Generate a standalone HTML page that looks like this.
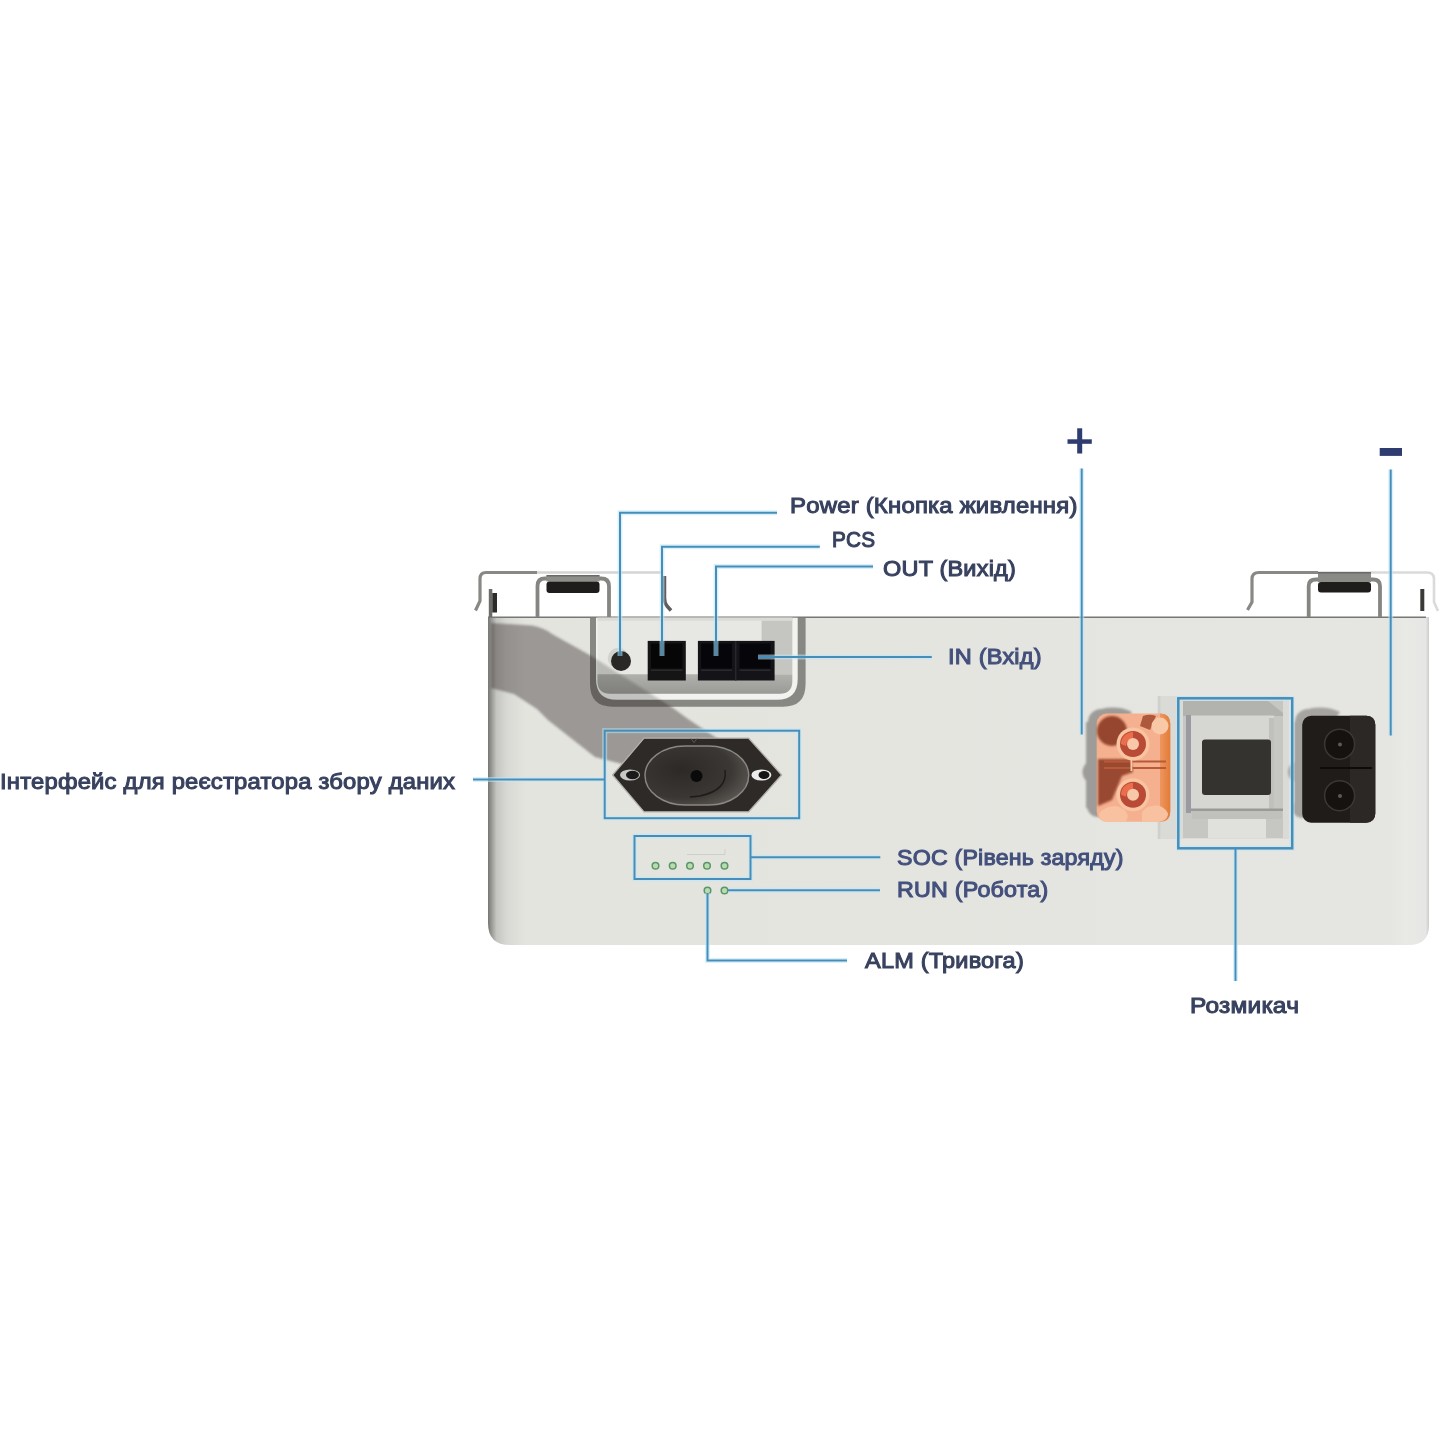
<!DOCTYPE html>
<html><head><meta charset="utf-8">
<style>
html,body{margin:0;padding:0;background:#fff;}
body{width:1440px;height:1440px;position:relative;overflow:hidden;font-family:"Liberation Sans",sans-serif;}
svg{position:absolute;left:0;top:0;}
.g{color:#43507c !important;-webkit-text-stroke-color:#43507c !important;}
.lb{position:absolute;white-space:nowrap;font-weight:normal;font-size:22.5px;line-height:23px;color:#38425f;-webkit-text-stroke:1.05px #38425f;letter-spacing:0.2px;transform-origin:0 0;}
</style></head><body>
<svg width="1440" height="1440" viewBox="0 0 1440 1440">
<defs>
  <linearGradient id="bodyL" x1="488" x2="1428.5" y1="0" y2="0" gradientUnits="userSpaceOnUse">
    <stop offset="0" stop-color="#767672"/>
    <stop offset="0.004" stop-color="#9a9a96"/>
    <stop offset="0.009" stop-color="#c4c4c0"/>
    <stop offset="0.02" stop-color="#d8d8d4"/>
    <stop offset="0.04" stop-color="#e4e4df"/>
    <stop offset="0.96" stop-color="#e5e5e1"/>
    <stop offset="0.975" stop-color="#e9e9e6"/>
    <stop offset="0.997" stop-color="#e6e6e4"/>
    <stop offset="1" stop-color="#d0d0ce"/>
  </linearGradient>
  <linearGradient id="ledge" x1="0" x2="0" y1="0" y2="1">
    <stop offset="0" stop-color="#b0b0ac"/><stop offset="1" stop-color="#9a9a96"/>
  </linearGradient>
  <linearGradient id="rimR" x1="0" x2="1" y1="0" y2="0">
    <stop offset="0" stop-color="#9a9a96"/><stop offset="0.5" stop-color="#7e7e7a"/><stop offset="1" stop-color="#a8a8a4"/>
  </linearGradient>
  <radialGradient id="ov" cx="0.35" cy="0.4" r="0.8"><stop offset="0" stop-color="#2c2926"/><stop offset="0.6" stop-color="#3a3734"/><stop offset="1" stop-color="#67645f"/></radialGradient>
  <linearGradient id="orR" x1="0" x2="1" y1="0" y2="0"><stop offset="0" stop-color="#ee9660"/><stop offset="1" stop-color="#e27c38"/></linearGradient>
  <linearGradient id="shg" gradientUnits="userSpaceOnUse" x1="520" y1="705" x2="560" y2="640"><stop offset="0" stop-color="#35322d" stop-opacity="0.42"/><stop offset="1" stop-color="#35322d" stop-opacity="0.42"/></linearGradient>
  <filter id="soft" x="-20%" y="-20%" width="140%" height="140%"><feGaussianBlur stdDeviation="1.2"/></filter>
  <filter id="soft2" x="-20%" y="-20%" width="140%" height="140%"><feGaussianBlur stdDeviation="2"/></filter>
</defs>
<!-- body -->
<path d="M488,617 H1429 V925 Q1429,945 1409,945 H510 Q488,945 488,923 Z" fill="url(#bodyL)"/>
<line x1="488" y1="617.2" x2="1426" y2="617.2" stroke="#777775" stroke-width="1.4"/>
<!-- recess -->
<path d="M590,617.8 V684 Q590,706.7 612.7,706.7 H783 Q805.6,706.7 805.6,684 V617.8 Z" fill="#878783"/>
<path d="M596,617.8 V679 Q596,699.7 616.7,699.7 H777 Q797.7,699.7 797.7,679 V617.8 Z" fill="#f2f2f0"/>
<path d="M597.5,617.8 V681 Q597.5,693.8 610.3,693.8 H779.5 Q792.3,693.8 792.3,681 V617.8 Z" fill="#e7e7e3"/>
<path d="M597.5,674.3 H792.3 V681 Q792.3,693.8 779.5,693.8 H610.3 Q597.5,693.8 597.5,681 Z" fill="url(#ledge)"/>
<rect x="761.6" y="617.8" width="30.7" height="56.5" fill="#c5c5c1"/>
<rect x="597.5" y="617.8" width="195" height="3" fill="#dadad6"/>
<!-- shadow band -->
<clipPath id="outR"><path clip-rule="evenodd" d="M480,610 H820 V820 H480 Z M596,617.8 V679 Q596,699.7 616.7,699.7 H777 Q797.7,699.7 797.7,679 V617.8 Z"/></clipPath>
<clipPath id="inR"><path d="M596,617.8 V679 Q596,699.7 616.7,699.7 H777 Q797.7,699.7 797.7,679 V617.8 Z"/></clipPath>
<g clip-path="url(#outR)"><path d="M491,623 L532,625.5 Q545,628 552,634 L590.5,655.6 L671.5,707 L688,719 L706,731 L718,739 L745,752 L700,800 L622,764 L595,757 L548,720 L537,709 L514,694 L491,688 Z" fill="url(#shg)" filter="url(#soft)"/></g>
<g clip-path="url(#inR)"><path d="M491,623 L532,625.5 Q545,628 552,634 L590.5,655.6 L671.5,707 L688,719 L706,731 L718,739 L745,752 L700,800 L622,764 L595,757 L548,720 L537,709 L514,694 L491,688 Z" fill="#35322d" fill-opacity="0.25" filter="url(#soft)"/></g>
<!-- power button -->
<circle cx="618.3" cy="658.3" r="10.5" fill="#c9c9c5" opacity="0.7"/>
<circle cx="621" cy="661" r="10" fill="#2a2826"/>
<!-- ports -->
<rect x="647.7" y="640.9" width="38.1" height="39.6" fill="#151515"/>
<rect x="651" y="643.5" width="31.5" height="25" fill="#060606"/>
<rect x="651" y="669.5" width="31.5" height="1.5" fill="#2a2a2a"/>
<rect x="697.9" y="640.9" width="76.7" height="39.6" fill="#141418"/>
<rect x="701" y="643.5" width="31" height="25" fill="#05050a"/>
<rect x="739.5" y="643.5" width="31" height="25" fill="#05050a"/>
<rect x="701" y="669.5" width="31" height="1.5" fill="#2a2a2e"/>
<rect x="739.5" y="669.5" width="31" height="1.5" fill="#2a2a2e"/>
<line x1="735.7" y1="641" x2="735.7" y2="680.5" stroke="#28282c" stroke-width="1.5"/>
<!-- handles left -->
<path d="M537,572.5 H486 Q480,572.5 480,579 V601 L475.5,610.5" fill="none" stroke="#888884" stroke-width="3.2"/>
<path d="M537,572.5 H661" fill="none" stroke="#d4d4d2" stroke-width="2.6"/>
<path d="M664.5,576 V598 Q664.5,603 667,606 L671,610.5" fill="none" stroke="#5e5e5c" stroke-width="3.5"/>
<path d="M537.5,617 V586 Q537.5,578.5 545,578.5 H601 Q609,578.5 609,586 V617" fill="none" stroke="#858581" stroke-width="3.8"/>
<rect x="546.5" y="575.5" width="53" height="6" fill="#8e8e8a"/>
<rect x="546.5" y="575" width="53" height="1.5" fill="#6a6a68"/>
<rect x="546.5" y="581.5" width="53" height="11.5" rx="3" fill="#1f1d1b"/>
<rect x="488.8" y="589" width="3.5" height="28" fill="#6c6c6a"/>
<rect x="492.3" y="593" width="4.7" height="19.5" fill="#2c2c2a"/>
<!-- handles right -->
<path d="M1318,572.5 H1259 Q1252,572.5 1252,579 V602 L1247.5,610" fill="none" stroke="#888884" stroke-width="3.2"/>
<path d="M1318,572.5 H1427 Q1434,572.5 1434,579 V602 L1438,611" fill="none" stroke="#dadad8" stroke-width="2.6"/>
<path d="M1308.7,617 V586 Q1308.7,579.5 1316,579.5 H1373 Q1380,579.5 1380,586 V617" fill="none" stroke="#858581" stroke-width="3.8"/>
<rect x="1318" y="572" width="53" height="10" fill="#8a8a86"/>
<rect x="1318" y="572" width="53" height="1.5" fill="#6a6a68"/>
<rect x="1318" y="582" width="53" height="10.5" rx="3" fill="#1f1d1b"/>
<rect x="1420.3" y="589" width="4" height="22" fill="#3a3a38"/>
<!-- socket -->
<path d="M612.6,775 L644,738.2 H748.7 L781.6,775 L748.7,811.8 H644 Z" fill="#2d2a27" stroke="#b4b2ae" stroke-width="1.3" stroke-linejoin="round"/>
<path d="M691,738.5 L694,742.5 L697,738.5" fill="none" stroke="#5a5856" stroke-width="0.9"/>
<rect x="645" y="746" width="103.7" height="59" rx="40" ry="29.5" fill="url(#ov)" stroke="#8a8884" stroke-width="1.4"/>
<path d="M725,770 Q728,790 700,796 L690,797" fill="none" stroke="#1e1c1a" stroke-width="1.5"/>
<circle cx="696.5" cy="776" r="6" fill="#0a0a0a"/>
<ellipse cx="630" cy="775" rx="10" ry="5.5" fill="#c8c8c4"/>
<ellipse cx="632.5" cy="775" rx="6.5" ry="4.2" fill="#1a1a1a"/>
<ellipse cx="761.4" cy="775" rx="10" ry="5.5" fill="#ececea"/>
<ellipse cx="764" cy="775" rx="5.5" ry="4" fill="#151515"/>
<!-- LEDs -->
<g fill="#b8dcae" stroke="#5a966a" stroke-width="1.5">
<circle cx="655.5" cy="865.7" r="3.3"/><circle cx="672.7" cy="865.7" r="3.3"/><circle cx="690" cy="865.7" r="3.3"/><circle cx="707" cy="865.7" r="3.3"/><circle cx="724.5" cy="865.7" r="3.3"/>
<circle cx="707.5" cy="890.5" r="3.3"/><circle cx="724.5" cy="890.5" r="3.3"/>
</g>
<path d="M687,854.5 H725 V849" fill="none" stroke="#cfcfcb" stroke-width="1"/>
<!-- breaker -->
<rect x="1157.8" y="696" width="131.2" height="143" fill="#dadad6"/>
<rect x="1157.8" y="696" width="2.5" height="143" fill="#cfcfcb"/>
<rect x="1183" y="701" width="100" height="137" fill="#c6c6c2"/>
<path d="M1183,701 H1268 L1283,713 V716 H1183 Z" fill="#b2b2ae"/>
<rect x="1191" y="715.5" width="83" height="94.5" fill="#d6d6d2"/>
<rect x="1186" y="715" width="5" height="98" fill="#9a9aa0"/>
<rect x="1269" y="718" width="5" height="92" fill="#c0c0bc"/>
<rect x="1191" y="808.5" width="92" height="2.5" fill="#9a9a96"/>
<rect x="1202" y="739.4" width="69" height="55.6" rx="3" fill="#343330"/>
<rect x="1192" y="811" width="90" height="8" fill="#c0c0bc"/>
<rect x="1208" y="819" width="58" height="19" fill="#e0e0dc"/>
<!-- orange connector shadow -->
<g fill="#9e9c98" filter="url(#soft)">
<circle cx="1101" cy="722" r="13"/><circle cx="1095" cy="772" r="12.5"/><circle cx="1098" cy="806" r="11"/>
<rect x="1086" y="722" width="14" height="86"/><path d="M1101,709 Q1118,705 1132,712 L1128,718 H1101 Z"/>
</g>
<!-- orange connector -->
<rect x="1096.7" y="713.5" width="73.6" height="108.3" rx="10" fill="#f5b090"/>
<path d="M1160,713.5 H1161 Q1170.3,713.5 1170.3,724 V811 Q1170.3,821.8 1161,821.8 H1160 Z" fill="url(#orR)"/>
<circle cx="1112" cy="731" r="15" fill="#8e3c26" opacity="0.92" filter="url(#soft)"/>
<path d="M1143,716 Q1150,713.5 1156,716 L1150,730 L1140,726 Z" fill="#a04a30" opacity="0.85"/>
<path d="M1098,759 H1131 L1133,772 L1122,776 L1112,800 L1098,806 Z" fill="#8a3822" opacity="0.85" filter="url(#soft)"/>
<rect x="1104" y="760.5" width="62" height="2" fill="#b85a38"/>
<rect x="1104" y="767" width="62" height="2" fill="#b85a38"/>
<rect x="1130.5" y="758" width="1.8" height="13" fill="#f8c8a8"/>
<path d="M1099,814 Q1104,806 1116,806 Q1126,808 1128,816 L1126,821.8 H1106 Q1099,821.8 1099,814 Z" fill="#f8c2a0"/>
<path d="M1142,812 Q1148,804 1160,806 Q1168,810 1168,815 Q1166,821.8 1158,821.8 H1142 Z" fill="#f8c2a0"/>
<circle cx="1160" cy="726" r="8.5" fill="#f9c8a6"/>
<circle cx="1133" cy="744" r="16.5" fill="#f9c4a2"/>
<circle cx="1133" cy="744" r="13" fill="#b84a36"/>
<path d="M1121,744 A12,12 0 0 1 1133,732 L1133,739 Q1126,740 1126,746 Z" fill="#ea6e4c"/>
<circle cx="1133" cy="744" r="6" fill="#f8c8a8"/>
<circle cx="1133" cy="794.8" r="16.5" fill="#f9c4a2"/>
<circle cx="1133" cy="794.8" r="13" fill="#b84a36"/>
<path d="M1121,794.8 A12,12 0 0 1 1133,782.8 L1133,789.8 Q1126,790.8 1126,796.8 Z" fill="#ea6e4c"/>
<circle cx="1133" cy="794.8" r="6" fill="#f8c8a8"/>
<!-- black connector shadow -->
<g fill="#a6a4a0" filter="url(#soft)">
<circle cx="1308" cy="722" r="13"/><circle cx="1299" cy="772" r="11"/><circle cx="1302" cy="808" r="10"/>
<rect x="1294" y="722" width="12" height="86"/><path d="M1308,709 Q1325,705 1340,712 L1336,718 H1308 Z"/>
</g>
<!-- black connector -->
<rect x="1302.2" y="715.8" width="73.1" height="106.9" rx="9" fill="#201c1a"/>
<path d="M1350,715.8 H1366 Q1375.3,715.8 1375.3,725 V813 Q1375.3,822.7 1366,822.7 H1350 Z" fill="#2c2826"/>
<circle cx="1339.6" cy="744.2" r="15" fill="#151210" stroke="#3c3836" stroke-width="1.5"/>
<circle cx="1339.6" cy="795.7" r="15" fill="#151210" stroke="#3c3836" stroke-width="1.5"/>
<path d="M1320,768 H1372" stroke="#0e0c0a" stroke-width="2"/>
<circle cx="1340" cy="744.5" r="2" fill="#5a5a5a"/>
<circle cx="1340" cy="796" r="2" fill="#5a5a5a"/>

<!-- annotation lines: halo -->
<g fill="none" stroke="#bfe6f6" stroke-width="5" opacity="0.55">
<polyline points="777,512.7 620,512.7 620,656"/>
<polyline points="819.8,546.7 662,546.7 662,656"/>
<polyline points="873,566.5 716,566.5 716,656"/>
<line x1="758" y1="657" x2="931.8" y2="657"/>
<line x1="473" y1="779.5" x2="604.7" y2="779.5"/>
<rect x="604.7" y="730.7" width="194.5" height="87.5"/>
<rect x="634.5" y="836" width="116" height="43"/>
<line x1="750.5" y1="857.2" x2="880.3" y2="857.2"/>
<line x1="728" y1="890.3" x2="880" y2="890.3"/>
<polyline points="707.5,893 707.5,960.5 847,960.5"/>
<rect x="1178.3" y="698.3" width="113.9" height="150"/>
<line x1="1235.5" y1="848.3" x2="1235.5" y2="981"/>
<line x1="1081.7" y1="468.6" x2="1081.7" y2="734.4"/>
<line x1="1390.7" y1="469.6" x2="1390.7" y2="735.6"/>
</g>
<g fill="none" stroke="#458eba" stroke-width="2">
<polyline points="777,512.7 620,512.7 620,656"/>
<polyline points="819.8,546.7 662,546.7 662,656"/>
<polyline points="873,566.5 716,566.5 716,656"/>
<line x1="758" y1="657" x2="931.8" y2="657"/>
<line x1="473" y1="779.5" x2="604.7" y2="779.5"/>
<rect x="604.7" y="730.7" width="194.5" height="87.5"/>
<rect x="634.5" y="836" width="116" height="43"/>
<line x1="750.5" y1="857.2" x2="880.3" y2="857.2"/>
<line x1="728" y1="890.3" x2="880" y2="890.3"/>
<polyline points="707.5,893 707.5,960.5 847,960.5"/>
<rect x="1178.3" y="698.3" width="113.9" height="150" stroke-width="2.5"/>
<line x1="1235.5" y1="848.3" x2="1235.5" y2="981"/>
<line x1="1081.7" y1="468.6" x2="1081.7" y2="734.4"/>
<line x1="1390.7" y1="469.6" x2="1390.7" y2="735.6"/>
</g>
<!-- plus / minus -->
<rect x="1077.2" y="428.3" width="5" height="25.2" fill="#2e3c70"/>
<rect x="1067.5" y="439.3" width="24.3" height="4.5" fill="#2e3c70"/>
<rect x="1379.7" y="448" width="22.3" height="7.9" fill="#2e3c70"/>
</svg>

<div class="lb" id="t1" style="left:789.8px;top:493.9px;transform:scaleX(1.0625)">Power (Кнопка живлення)</div>
<div class="lb" id="t2" style="left:832.0px;top:527.6px;transform:scaleX(0.9222)">PCS</div>
<div class="lb" id="t3" style="left:883.0px;top:557.2px;transform:scaleX(1.0432)">OUT (Вихід)</div>
<div class="lb g" id="t4" style="left:947.9px;top:644.8px;transform:scaleX(1.0460)">IN (Вхід)</div>
<div class="lb" id="t5" style="left:0.4px;top:770.3px;transform:scaleX(1.0572)">Інтерфейс для реєстратора збору даних</div>
<div class="lb g" id="t6" style="left:897.3px;top:845.5px;transform:scaleX(1.0298)">SOC (Рівень заряду)</div>
<div class="lb g" id="t7" style="left:897.0px;top:878.4px;transform:scaleX(1.0347)">RUN (Робота)</div>
<div class="lb" id="t8" style="left:865.0px;top:949.2px;transform:scaleX(1.0450)">ALM (Тривога)</div>
<div class="lb" id="t9" style="left:1189.5px;top:994.0px;transform:scaleX(1.0878)">Розмикач</div>
</body></html>
